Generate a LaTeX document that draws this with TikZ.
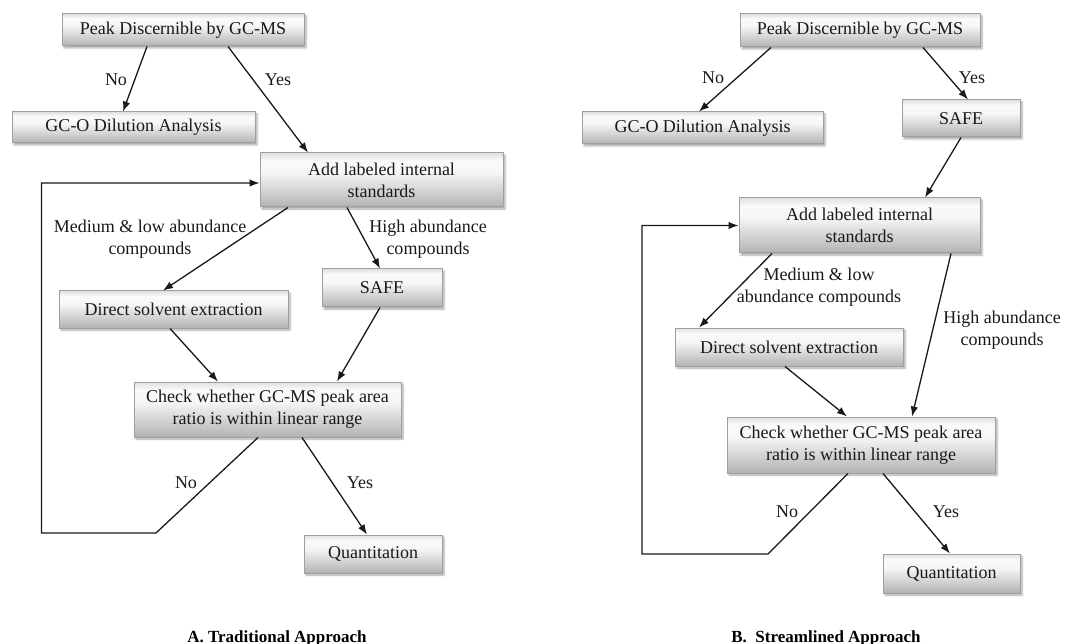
\documentclass[tikz,border=0pt]{standalone}
\usepackage{fontspec}
\setmainfont{Liberation Serif}
\usetikzlibrary{arrows.meta,shadows.blur,calc}
\pgfdeclareverticalshading{boxshade}{100bp}{color(0bp)=(gray!60); color(25bp)=(gray!60); color(57bp)=(gray!7); color(68bp)=(gray!4); color(75bp)=(gray!24); color(100bp)=(gray!24)}
\tikzset{
  box/.style={draw=gray!75, line width=1pt, shading=boxshade, inner sep=0pt,
    align=center, text=black!90, font=\fontsize{18}{22}\selectfont,
    blur shadow={shadow xshift=2pt, shadow yshift=-2pt, shadow opacity=35, shadow blur steps=4}},
  conn/.style={line width=1.3pt, draw=black!90, -{Latex[length=10pt,width=7.5pt]}},
  lbl/.style={align=center, inner sep=0pt, text=black!90, font=\fontsize{18}{22}\selectfont},
  captxt/.style={anchor=base, inner sep=0pt, font=\fontsize{17}{20}\selectfont\bfseries}
}
\begin{document}
\begin{tikzpicture}[x=1pt,y=-1pt]
\useasboundingbox (0,0) rectangle (1068,644);
% ---------------- Panel A ----------------
\node[box, minimum width=242pt, minimum height=32pt] (pA) at (183,30) {Peak Discernible by GC-MS};
\node[box, minimum width=243pt, minimum height=31pt] (gA) at (133.5,127.5) {GC-O Dilution Analysis};
\node[box, minimum width=243pt, minimum height=54pt] (addA) at (381.5,180) {Add labeled internal\\standards};
\node[box, minimum width=120pt, minimum height=38pt] (safeA) at (382,288) {SAFE};
\node[box, minimum width=229pt, minimum height=37pt] (dirA) at (173.5,309.5) {Direct solvent extraction};
\node[box, minimum width=267pt, minimum height=55pt] (chkA) at (267.5,409.5) {Check whether GC-MS peak area\\ratio is within linear range};
\node[box, minimum width=138pt, minimum height=38pt] (qA) at (373,554) {Quantitation};
\coordinate (lA1) at (156,533);
\coordinate (lA2) at (41.5,533);

\draw[conn] ([xshift=-36pt]pA.south) -- ([xshift=-10.5pt]gA.north);
\draw[conn] ([xshift=45pt]pA.south) -- ([xshift=-73.5pt]addA.north);
\draw[conn] ([xshift=-93.5pt]addA.south) -- ([xshift=-10.5pt]dirA.north);
\draw[conn] ([xshift=-34.5pt]addA.south) -- ([xshift=-2pt]safeA.north);
\draw[conn] ([xshift=-3.5pt]dirA.south) -- ([xshift=-49.5pt]chkA.north);
\draw[conn] ([xshift=-2pt]safeA.south) -- ([xshift=69.5pt]chkA.north);
\draw[conn] ([xshift=34.5pt]chkA.south) -- ([xshift=-6pt]qA.north);
\draw[conn] ([xshift=-9.5pt]chkA.south) -- (lA1) -- (lA2) |- ([yshift=-3pt]addA.west);

\node[lbl] (tA1) at (116,80) {No};
\node[lbl] (tA2) at (278,80) {Yes};
\node[lbl] (tA3) at (150,239) {Medium \& low abundance\\compounds};
\node[lbl] (tA4) at (428,239) {High abundance\\compounds};
\node[lbl] (tA5) at (186,483) {No};
\node[lbl] (tA6) at (360,483) {Yes};
\node[captxt] (capA) at (277,642) {A. Traditional Approach};

% ---------------- Panel B ----------------
\node[box, minimum width=240pt, minimum height=33pt] (pB) at (860,30.5) {Peak Discernible by GC-MS};
\node[box, minimum width=241pt, minimum height=32pt] (gB) at (702.5,128) {GC-O Dilution Analysis};
\node[box, minimum width=118pt, minimum height=37pt] (safeB) at (961,118.5) {SAFE};
\node[box, minimum width=241pt, minimum height=55pt] (addB) at (859.5,225.5) {Add labeled internal\\standards};
\node[box, minimum width=228pt, minimum height=38pt] (dirB) at (789,347) {Direct solvent extraction};
\node[box, minimum width=268pt, minimum height=56pt] (chkB) at (861,445) {Check whether GC-MS peak area\\ratio is within linear range};
\node[box, minimum width=137pt, minimum height=39pt] (qB) at (951.5,573.5) {Quantitation};
\coordinate (lB1) at (768,554);
\coordinate (lB2) at (642,554);

\draw[conn] ([xshift=-89pt]pB.south) -- ([xshift=-3.5pt]gB.north);
\draw[conn] ([xshift=63pt]pB.south) -- ([xshift=7pt]safeB.north);
\draw[conn] (safeB.south) -- ([xshift=65.5pt]addB.north);
\draw[conn] ([xshift=-87.5pt]addB.south) -- ([xshift=-90pt]dirB.north);
\draw[conn] ([xshift=91.5pt]addB.south) -- ([xshift=51pt]chkB.north);
\draw[conn] ([xshift=-4pt]dirB.south) -- ([xshift=-14pt]chkB.north);
\draw[conn] ([xshift=22pt]chkB.south) -- ([xshift=-1.5pt]qB.north);
\draw[conn] ([xshift=-13pt]chkB.south) -- (lB1) -- (lB2) |- (addB.west);

\node[lbl] (tB1) at (713,78) {No};
\node[lbl] (tB2) at (972,78) {Yes};
\node[lbl] (tB3) at (819,287) {Medium \& low\\abundance compounds};
\node[lbl] (tB4) at (1002,330) {High abundance\\compounds};
\node[lbl] (tB5) at (787,512) {No};
\node[lbl] (tB6) at (946,512) {Yes};
\node[captxt] (capB) at (826,642) {B.\ \ Streamlined Approach};
\end{tikzpicture}
\end{document}
